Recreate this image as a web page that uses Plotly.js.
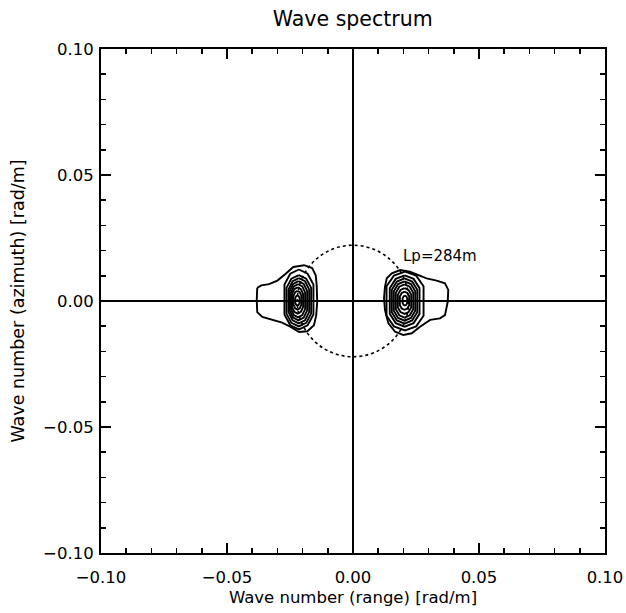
<!DOCTYPE html>
<html><head><meta charset="utf-8">
<script src="https://cdn.plot.ly/plotly-3.0.1.min.js"></script>
<style>html,body{margin:0;padding:0;background:#fff}</style>
</head><body><div id="chart" style="width:626px;height:613px"></div>
<script>
// ---- data (wavenumbers in rad/m) ----
const tickVals = [-0.10, -0.05, 0.00, 0.05, 0.10];
const tickText = ["\u22120.10", "\u22120.05", "0.00", "0.05", "0.10"];

const peakWavelength = 284; // m, "Lp=284m"

// outermost contour, left (negative range) blob
const leftOuterX = [-0.0380,-0.0364,-0.0333,-0.0300,-0.0267,-0.0237,-0.0194,-0.0162,-0.0148,-0.0144,-0.0142,-0.0146,-0.0155,-0.0181,-0.0214,-0.0247,-0.0281,-0.0327,-0.0360,-0.0380,-0.0382,-0.0380];
const leftOuterY = [0.0052,0.0062,0.0067,0.0081,0.0108,0.0135,0.0142,0.0131,0.0102,0.0062,-0.0004,-0.0057,-0.0096,-0.0120,-0.0123,-0.0103,-0.0086,-0.0073,-0.0063,-0.0044,0.0003,0.0052];

// outermost contour, right (positive range) blob
const rightOuterX = [0.0127,0.0134,0.0154,0.0187,0.0226,0.0259,0.0292,0.0332,0.0365,0.0378,0.0376,0.0365,0.0345,0.0306,0.0266,0.0233,0.0200,0.0167,0.0140,0.0127,0.0123,0.0127];
const rightOuterY = [0.0057,0.0090,0.0110,0.0123,0.0116,0.0103,0.0090,0.0081,0.0070,0.0044,-0.0003,-0.0056,-0.0069,-0.0075,-0.0102,-0.0128,-0.0135,-0.0122,-0.0088,-0.0036,0.0011,0.0057];

// inner contour rings: left / right / top / bottom extents
const leftRingL  = [-0.0272,-0.0264,-0.0256,-0.0251,-0.0246,-0.0242,-0.0236,-0.0229];
const leftRingR  = [-0.0157,-0.0166,-0.0174,-0.0182,-0.0190,-0.0198,-0.0205,-0.0212];
const leftRingT  = [0.0125,0.0103,0.0091,0.0079,0.0067,0.0054,0.0040,0.0022];
const leftRingB  = [-0.0113,-0.0101,-0.0089,-0.0077,-0.0065,-0.0050,-0.0034,-0.0018];

const rightRingL = [0.0133,0.0146,0.0154,0.0162,0.0170,0.0178,0.0186,0.0197];
const rightRingR = [0.0280,0.0264,0.0255,0.0247,0.0239,0.0231,0.0223,0.0215];
const rightRingT = [0.0117,0.0102,0.0090,0.0078,0.0066,0.0051,0.0037,0.0021];
const rightRingB = [-0.0117,-0.0102,-0.0090,-0.0078,-0.0066,-0.0051,-0.0035,-0.0018];

// ---- build traces ----
const FONT = "DejaVu Sans, Liberation Sans, sans-serif";
const lineStyle = {color: "black", width: 1.9};

function ringPath(L, R, T, B) {
  const w = R - L, h = T - B, cx = (L + R) / 2, cy = (T + B) / 2;
  const xs = [cx, R - 0.2*w, R, R, R - 0.2*w, cx, L + 0.2*w, L, L, L + 0.2*w, cx];
  const ys = [T, T - 0.07*h, cy + 0.25*h, cy - 0.25*h, B + 0.07*h, B, B + 0.07*h, cy - 0.25*h, cy + 0.25*h, T - 0.07*h, T];
  return {xs, ys};
}

const traces = [];
function addLine(xs, ys) {
  traces.push({type: "scatter", mode: "lines", x: xs, y: ys, line: lineStyle,
               showlegend: false, hoverinfo: "skip"});
}
addLine(leftOuterX, leftOuterY);
addLine(rightOuterX, rightOuterY);
for (let i = 0; i < leftRingL.length; i++) {
  const p = ringPath(leftRingL[i], leftRingR[i], leftRingT[i], leftRingB[i]);
  addLine(p.xs, p.ys);
}
for (let i = 0; i < rightRingL.length; i++) {
  const p = ringPath(rightRingL[i], rightRingR[i], rightRingT[i], rightRingB[i]);
  addLine(p.xs, p.ys);
}

const kp = 2 * Math.PI / peakWavelength;

const axisCommon = {
  range: [-0.1, 0.1], autorange: false,
  tickmode: "array", tickvals: tickVals, ticktext: tickText,
  ticks: "inside", ticklen: 10, tickwidth: 1.5, tickcolor: "black",
  minor: {dtick: 0.01, ticks: "inside", ticklen: 5, tickwidth: 1.5, tickcolor: "black"},
  showline: true, linecolor: "black", linewidth: 2, mirror: "allticks",
  showgrid: false,
  zeroline: true, zerolinecolor: "black", zerolinewidth: 1.8,
  tickfont: {family: FONT, size: 16.5, color: "black"},
  fixedrange: true
};

const layout = {
  width: 626, height: 613,
  margin: {l: 101, r: 21, t: 49, b: 60},
  paper_bgcolor: "white", plot_bgcolor: "white",
  title: {text: "Wave spectrum", font: {family: FONT, size: 20.5, color: "black"},
          x: 0.5635, xanchor: "center", y: 0.97, yanchor: "middle"},
  xaxis: Object.assign({}, axisCommon, {
    ticklabelstandoff: 8,
    title: {text: "Wave number (range) [rad/m]", font: {family: FONT, size: 16.5, color: "black"}, standoff: 6}
  }),
  yaxis: Object.assign({}, axisCommon, {
    ticklabelstandoff: 2,
    title: {text: "Wave number (azimuth) [rad/m]", font: {family: FONT, size: 17.5, color: "black"}, standoff: 14}
  }),
  shapes: [{
    type: "circle", xref: "x", yref: "y",
    x0: -kp, x1: kp, y0: -kp, y1: kp,
    line: {color: "black", width: 1.6, dash: "dot"}
  }],
  annotations: [{
    x: 0.0192, y: 0.0179, xref: "x", yref: "y",
    text: "Lp=" + peakWavelength + "m", showarrow: false,
    xanchor: "left", yanchor: "middle",
    font: {family: FONT, size: 15, color: "black"}
  }]
};

Plotly.newPlot("chart", traces, layout, {displayModeBar: false, staticPlot: true});
</script>
</body></html>
